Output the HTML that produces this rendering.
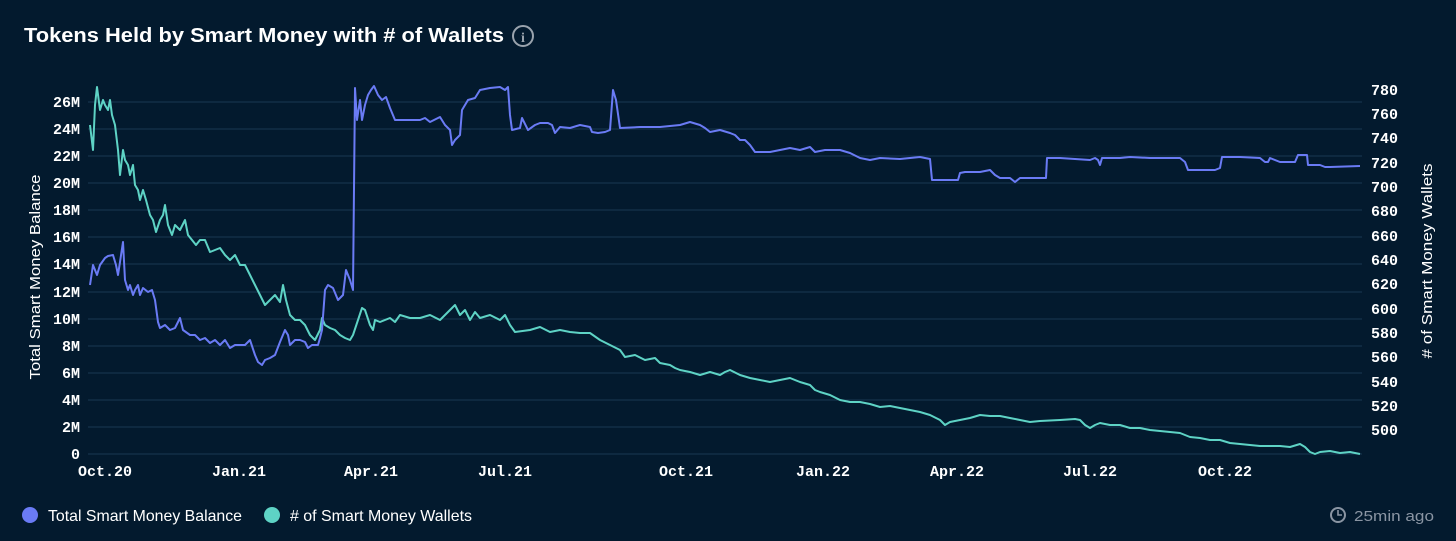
<!DOCTYPE html>
<html><head><style>
body{margin:0;background:#031a2e;width:1456px;height:541px;overflow:hidden;font-family:"Liberation Sans",sans-serif;}
</style></head><body>
<svg width="1456" height="541" xmlns="http://www.w3.org/2000/svg" style="position:absolute;left:0;top:0">
<rect width="1456" height="541" fill="#031a2e"/>
<text x="24" y="42" fill="#fff" font-size="20" font-weight="bold" textLength="480" lengthAdjust="spacingAndGlyphs" font-family="Liberation Sans,sans-serif">Tokens Held by Smart Money with # of Wallets</text>
<circle cx="523" cy="36" r="10" fill="none" stroke="#9aa3ad" stroke-width="2"/>
<text x="523" y="42" fill="#9aa3ad" font-size="14" font-weight="bold" text-anchor="middle" font-family="Liberation Serif,serif">i</text>
<g stroke="#1a3852" stroke-width="1">
<line x1="88" x2="1362" y1="102" y2="102"/><line x1="88" x2="1362" y1="129" y2="129"/><line x1="88" x2="1362" y1="156" y2="156"/><line x1="88" x2="1362" y1="183" y2="183"/><line x1="88" x2="1362" y1="210" y2="210"/><line x1="88" x2="1362" y1="237" y2="237"/><line x1="88" x2="1362" y1="264" y2="264"/><line x1="88" x2="1362" y1="292" y2="292"/><line x1="88" x2="1362" y1="319" y2="319"/><line x1="88" x2="1362" y1="346" y2="346"/><line x1="88" x2="1362" y1="373" y2="373"/><line x1="88" x2="1362" y1="400" y2="400"/><line x1="88" x2="1362" y1="427" y2="427"/><line x1="88" x2="1362" y1="454" y2="454"/>
</g>
<g fill="#fff" font-size="15" font-weight="bold" font-family="Liberation Mono,monospace" text-anchor="end">
<text x="80" y="107">26M</text><text x="80" y="134">24M</text><text x="80" y="161">22M</text><text x="80" y="188">20M</text><text x="80" y="215">18M</text><text x="80" y="242">16M</text><text x="80" y="269">14M</text><text x="80" y="297">12M</text><text x="80" y="324">10M</text><text x="80" y="351">8M</text><text x="80" y="378">6M</text><text x="80" y="405">4M</text><text x="80" y="432">2M</text><text x="80" y="459">0</text>
</g>
<g fill="#fff" font-size="15" font-weight="bold" font-family="Liberation Mono,monospace">
<text x="1371" y="95">780</text><text x="1371" y="119">760</text><text x="1371" y="143">740</text><text x="1371" y="168">720</text><text x="1371" y="192">700</text><text x="1371" y="216">680</text><text x="1371" y="241">660</text><text x="1371" y="265">640</text><text x="1371" y="289">620</text><text x="1371" y="314">600</text><text x="1371" y="338">580</text><text x="1371" y="362">560</text><text x="1371" y="387">540</text><text x="1371" y="411">520</text><text x="1371" y="435">500</text>
</g>
<g fill="#fff" font-size="15" font-weight="bold" font-family="Liberation Mono,monospace" text-anchor="middle">
<text x="105" y="476">Oct.20</text><text x="239" y="476">Jan.21</text><text x="371" y="476">Apr.21</text><text x="505" y="476">Jul.21</text><text x="686" y="476">Oct.21</text><text x="823" y="476">Jan.22</text><text x="957" y="476">Apr.22</text><text x="1090" y="476">Jul.22</text><text x="1225" y="476">Oct.22</text>
</g>
<text transform="translate(40,277) rotate(-90)" fill="#fff" font-size="15" text-anchor="middle" textLength="205" lengthAdjust="spacingAndGlyphs">Total Smart Money Balance</text>
<text transform="translate(1432,261) rotate(-90)" fill="#fff" font-size="15" text-anchor="middle" textLength="195" lengthAdjust="spacingAndGlyphs"># of Smart Money Wallets</text>
<polyline fill="none" stroke="#5ed3c5" stroke-width="2" stroke-linejoin="round" points="90,125 93,150 95,105 97,87 100,110 103,100 105,105 108,110 110,100 112,115 115,125 118,150 120,175 123,150 125,160 128,165 130,175 133,165 135,185 138,190 140,200 143,190 146,200 150,215 153,220 156,232 160,220 163,215 165,205 168,225 172,235 175,225 180,230 185,220 188,235 192,240 196,245 200,240 205,240 210,252 215,250 220,248 225,255 230,260 235,255 240,265 245,265 250,275 255,285 260,295 265,305 270,300 275,295 280,302 283,285 286,300 290,315 295,320 300,320 305,325 310,335 315,340 320,330 322,318 325,325 330,328 335,330 340,335 345,338 350,340 353,335 358,320 362,308 365,310 370,325 373,330 375,320 380,322 390,318 395,322 400,315 410,318 420,318 430,315 440,320 450,310 455,305 460,315 465,310 470,320 475,312 480,318 490,315 500,320 505,315 510,325 515,332 530,330 540,327 550,332 560,330 570,332 580,333 590,333 600,340 610,345 620,350 625,357 635,355 645,360 655,358 660,363 670,365 675,368 680,370 690,372 700,375 710,372 720,375 725,372 730,370 740,375 750,378 760,380 770,382 780,380 790,378 800,382 810,385 815,390 820,392 830,395 840,400 850,402 860,402 870,404 880,407 890,406 900,408 910,410 920,412 930,415 940,420 945,425 950,422 960,420 970,418 980,415 990,416 1000,416 1010,418 1020,420 1030,422 1040,421 1060,420 1075,419 1080,420 1085,425 1090,428 1095,425 1100,423 1110,425 1120,425 1130,428 1140,428 1150,430 1160,431 1170,432 1180,433 1190,437 1200,438 1210,440 1220,440 1230,443 1240,444 1250,445 1260,446 1270,446 1280,446 1290,447 1300,444 1305,447 1310,452 1315,454 1320,452 1330,451 1340,453 1350,452 1360,454"/>
<polyline fill="none" stroke="#6a7bf5" stroke-width="2" stroke-linejoin="round" points="90,285 93,265 97,275 100,265 105,258 108,256 113,255 116,265 118,275 120,262 123,242 125,280 128,290 130,285 133,295 135,290 138,285 140,295 143,288 148,292 152,290 155,300 158,322 160,328 165,325 170,330 175,328 180,318 183,330 190,335 195,335 200,340 205,338 210,343 215,340 220,345 225,340 230,348 235,345 240,345 245,345 250,340 255,355 258,362 262,365 265,360 270,358 275,355 280,342 285,330 288,335 290,345 295,340 300,340 305,342 308,348 312,345 318,345 320,338 322,330 325,290 328,285 333,288 338,300 343,295 346,270 350,280 353,290 355,88 357,120 360,100 362,120 365,105 368,95 371,90 374,86 378,95 382,100 386,97 390,108 395,120 400,120 420,120 425,118 430,122 440,117 445,125 450,130 452,145 455,140 460,135 462,110 468,100 475,98 480,90 490,88 500,87 505,90 508,87 510,115 512,130 520,128 522,118 528,130 535,125 540,123 548,123 552,125 555,133 560,127 570,128 580,125 590,127 592,132 598,133 605,132 610,130 613,90 616,100 620,128 640,127 650,127 660,127 680,125 690,122 700,125 705,128 710,132 720,130 730,133 735,135 740,140 745,140 750,145 755,152 770,152 780,150 790,148 800,150 810,147 815,152 825,150 840,150 850,153 860,158 870,160 880,158 900,159 910,158 920,157 930,159 932,180 950,180 958,180 960,173 965,172 980,172 990,170 995,175 1000,178 1010,178 1015,182 1020,178 1030,178 1040,178 1046,178 1047,158 1060,158 1090,160 1095,158 1098,160 1100,165 1102,158 1120,158 1130,157 1150,158 1180,158 1185,162 1188,170 1210,170 1215,170 1220,168 1222,157 1240,157 1260,158 1265,162 1268,162 1270,158 1280,162 1295,162 1298,155 1307,155 1308,165 1310,165 1320,165 1325,167 1330,167 1360,166"/>
<circle cx="30" cy="515" r="8" fill="#6a7bf5"/>
<text x="48" y="521" fill="#fff" font-size="16" textLength="194" lengthAdjust="spacingAndGlyphs">Total Smart Money Balance</text>
<circle cx="272" cy="515" r="8" fill="#5ed3c5"/>
<text x="290" y="521" fill="#fff" font-size="16" textLength="182" lengthAdjust="spacingAndGlyphs"># of Smart Money Wallets</text>
<circle cx="1338" cy="515" r="7" fill="none" stroke="#8a95a3" stroke-width="2"/>
<path d="M1338 510 V515 H1342" fill="none" stroke="#8a95a3" stroke-width="1.6"/>
<text x="1354" y="521" fill="#8a95a3" font-size="15" textLength="80" lengthAdjust="spacingAndGlyphs">25min ago</text>
</svg>
</body></html>
